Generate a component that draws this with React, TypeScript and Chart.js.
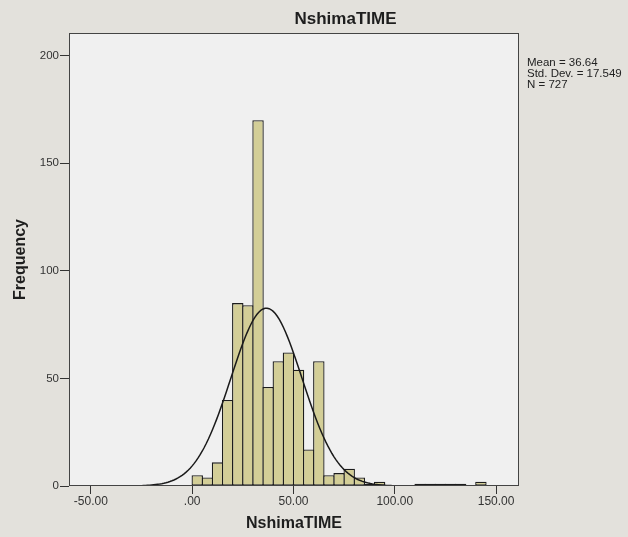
import React, { useEffect, useRef } from "react";
import { Chart, registerables } from "chart.js";

Chart.register(...registerables);

// ---- data ----
const chartTitle = "NshimaTIME";
const xAxisTitle = "NshimaTIME";
const yAxisTitle = "Frequency";
const binWidth = 5;
const binStarts = [0, 5, 10, 15, 20, 25, 30, 35, 40, 45, 50, 55, 60, 65, 70, 75, 80, 85, 90, 95, 100, 105, 110, 115, 120, 125, 130, 135, 140, 145];
const counts = [5, 4, 11, 40, 85, 84, 170, 46, 58, 62, 54, 17, 58, 5, 6, 8, 4, 1, 2, 0, 0, 0, 1, 1, 1, 1, 1, 0, 2, 0];
const xTicks = [-50, 0, 50, 100, 150];
const yTicks = [0, 50, 100, 150, 200];
const statMean = 36.64;
const statSd = 17.549;
const statN = 727;
const statLines = ["Mean = 36.64", "Std. Dev. = 17.549", "N = 727"];
const xMin = -60.8;
const xMax = 161.3;
const yMax = 210.5;

const FONT = "'Liberation Sans', Arial, Helvetica, sans-serif";

function fmtX(v: number): string {
  const s = v.toFixed(2);
  if (s === "0.00") return ".00";
  return s;
}

export default function App() {
  const ref = useRef<HTMLCanvasElement | null>(null);

  useEffect(() => {
    if (!ref.current) return;
    const barData = binStarts
      .map((s, i) => ({ x: s + binWidth / 2, y: counts[i] }))
      .filter((d) => d.y > 0);

    const peak = (statN * binWidth) / (statSd * Math.sqrt(2 * Math.PI));
    const curve: { x: number; y: number }[] = [];
    for (let x = Math.floor(xMin); x <= Math.ceil(xMax); x += 1) {
      const z = (x - statMean) / statSd;
      curve.push({ x, y: peak * Math.exp(-0.5 * z * z) });
    }

    const deco = {
      id: "deco",
      beforeDraw(chart: any) {
        const { ctx, chartArea: a, width, height } = chart;
        ctx.save();
        ctx.fillStyle = "#e3e1dc";
        ctx.fillRect(0, 0, width, height);
        ctx.fillStyle = "#f0f0f0";
        ctx.fillRect(a.left, a.top, a.right - a.left, a.bottom - a.top);
        ctx.restore();
      },
      afterDraw(chart: any) {
        const { ctx, chartArea: a } = chart;
        ctx.save();
        ctx.strokeStyle = "#444";
        ctx.lineWidth = 1;
        ctx.strokeRect(Math.round(a.left) + 0.5, Math.round(a.top) + 0.5, Math.round(a.right - a.left) - 1, Math.round(a.bottom - a.top) - 1);
        ctx.fillStyle = "#1e1e1e";
        ctx.font = `bold 17px ${FONT}`;
        ctx.textAlign = "center";
        ctx.textBaseline = "middle";
        ctx.fillText(chartTitle, 345.5, 19);
        ctx.font = `11.5px ${FONT}`;
        ctx.textAlign = "left";
        ctx.fillStyle = "#222";
        statLines.forEach((t, i) => {
          ctx.fillText(t, a.right + 8, 63 + i * 10.8);
        });
        ctx.restore();
      },
    };

    const chart = new Chart(ref.current, {
      type: "bar",
      data: {
        datasets: [
          {
            type: "line",
            data: curve,
            borderColor: "#1a1a1a",
            borderWidth: 1.5,
            pointRadius: 0,
            fill: false,
            order: 0,
          } as any,
          {
            type: "bar",
            data: barData,
            backgroundColor: "#d3ce97",
            borderColor: "#1c1c1c",
            borderWidth: 1.3,
            borderSkipped: false,
            barPercentage: 1.128,
            categoryPercentage: 1,
            order: 1,
          } as any,
        ],
      },
      options: {
        animation: false,
        responsive: false,
        devicePixelRatio: 1,
        layout: { padding: { top: 33, right: 109, left: 0, bottom: 0 } },
        plugins: {
          legend: { display: false },
          tooltip: { enabled: false },
          title: { display: false },
        },
        scales: {
          x: {
            type: "linear",
            min: xMin,
            max: xMax,
            offset: false,
            afterBuildTicks: (s: any) => {
              s.ticks = xTicks.map((v) => ({ value: v }));
            },
            afterFit: (s: any) => {
              s.height = 51;
            },
            border: { display: false },
            grid: { offset: false, drawOnChartArea: false, drawTicks: true, tickLength: 8, color: "#333" },
            ticks: {
              padding: 0,
              color: "#333",
              font: { family: FONT, size: 12 },
              maxRotation: 0,
              callback: (v: any) => fmtX(Number(v)),
            },
            title: {
              display: true,
              text: xAxisTitle,
              color: "#1e1e1e",
              font: { family: FONT, size: 16, weight: "bold" },
              padding: { top: 0, bottom: 4 },
            },
          },
          y: {
            type: "linear",
            min: 0,
            max: yMax,
            afterBuildTicks: (s: any) => {
              s.ticks = yTicks.map((v) => ({ value: v }));
            },
            afterFit: (s: any) => {
              s.width = 69;
            },
            border: { display: false },
            grid: { drawOnChartArea: false, drawTicks: true, tickLength: 9, color: "#333" },
            ticks: {
              padding: 1,
              color: "#333",
              font: { family: FONT, size: 11.5 },
            },
            title: {
              display: true,
              text: yAxisTitle,
              color: "#1e1e1e",
              font: { family: FONT, size: 16, weight: "bold" },
              padding: { top: 11, bottom: 0 },
            },
          },
        },
      } as any,
      plugins: [deco],
    });
    return () => chart.destroy();
  }, []);

  return (
    <div style={{ position: "absolute", left: 0, top: 0, width: 628, height: 537 }}>
      <canvas ref={ref} width={628} height={537} style={{ display: "block" }} />
    </div>
  );
}
